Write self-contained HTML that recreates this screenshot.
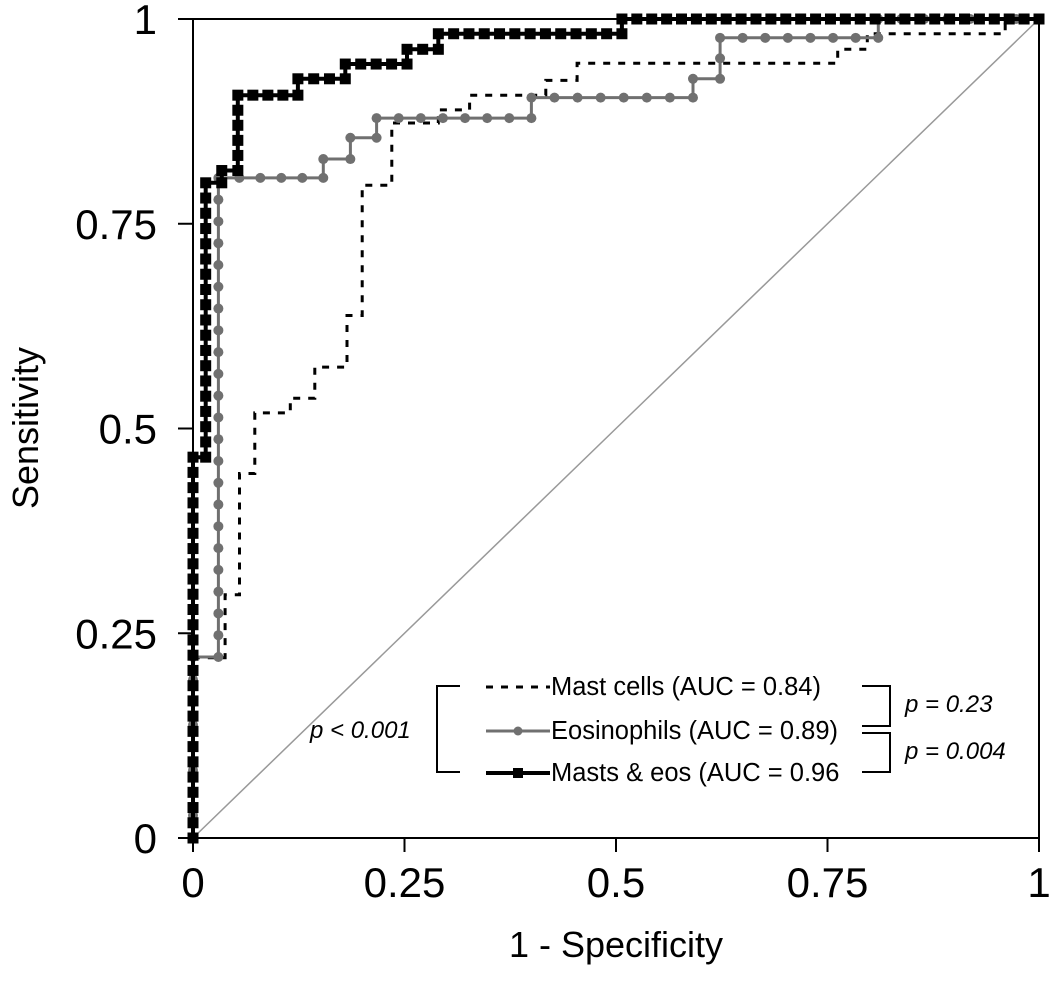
<!DOCTYPE html>
<html><head><meta charset="utf-8"><style>
html,body{margin:0;padding:0;background:#fff;}
svg{display:block;font-family:"Liberation Sans",Arial,sans-serif;}
</style></head><body>
<svg id="chart" width="1050" height="997" viewBox="0 0 1050 997"></svg>
<script>
const xTicks=[0,0.25,0.5,0.75,1];
const yTicks=[0,0.25,0.5,0.75,1];
const xTickLabels=["0","0.25","0.5","0.75","1"];
const yTickLabels=["0","0.25","0.5","0.75","1"];
const mastFpr=[0,0,0.038,0.038,0.055,0.055,0.073,0.073,0.115,0.115,0.144,0.144,0.182,0.182,0.2,0.2,0.235,0.235,0.29,0.29,0.327,0.327,0.417,0.417,0.454,0.454,0.762,0.762,0.797,0.797,0.96,0.96,1];
const mastTpr=[0,0.22,0.22,0.297,0.297,0.445,0.445,0.519,0.519,0.537,0.537,0.575,0.575,0.638,0.638,0.797,0.797,0.873,0.873,0.889,0.889,0.907,0.907,0.925,0.925,0.946,0.946,0.963,0.963,0.982,0.982,1,1];
const eosFpr=[0,0,0.03,0.03,0.154,0.154,0.186,0.186,0.217,0.217,0.40,0.40,0.591,0.591,0.623,0.623,0.81,0.81,1];
const eosTpr=[0,0.221,0.221,0.806,0.806,0.829,0.829,0.855,0.855,0.879,0.879,0.904,0.904,0.927,0.927,0.977,0.977,1,1];
const bothFpr=[0,0,0.015,0.015,0.034,0.034,0.053,0.053,0.124,0.124,0.18,0.18,0.253,0.253,0.29,0.29,0.507,0.507,1];
const bothTpr=[0,0.465,0.465,0.80,0.80,0.815,0.815,0.907,0.907,0.927,0.927,0.945,0.945,0.963,0.963,0.982,0.982,1,1];

const X0=193,X1=1039,Y0=838,Y1=19;
const sx=v=>X0+v*(X1-X0);
const sy=v=>Y0-v*(Y0-Y1);
const svg=document.getElementById('chart');
const NS='http://www.w3.org/2000/svg';
function mk(tag,attrs,parent){const e=document.createElementNS(NS,tag);for(const k in attrs)e.setAttribute(k,attrs[k]);(parent||svg).appendChild(e);return e;}

let g=mk('g',{});


mk('line',{x1:X0,y1:Y1,x2:X1,y2:Y1,stroke:'#000','stroke-width':2},g);
mk('line',{x1:X1,y1:Y1,x2:X1,y2:Y0,stroke:'#000','stroke-width':2},g);
let d=mk('line',{x1:sx(0),y1:sy(0),x2:sx(1),y2:sy(1),stroke:'#999','stroke-width':1.5});


let ax=mk('line',{x1:X0,y1:Y0,x2:X1,y2:Y0,stroke:'#000','stroke-width':2});


let ay=mk('line',{x1:X0,y1:Y1,x2:X0,y2:Y0,stroke:'#000','stroke-width':2});


xTicks.forEach((v,i)=>{
  mk('line',{x1:sx(v),y1:Y0,x2:sx(v),y2:Y0+14,stroke:'#000','stroke-width':2});
  const t=mk('text',{x:sx(v),y:897,'text-anchor':'middle','font-size':42,fill:'#000'});
  t.textContent=xTickLabels[i];
  
  
});
yTicks.forEach((v,i)=>{
  mk('line',{x1:X0-15,y1:sy(v),x2:X0,y2:sy(v),stroke:'#000','stroke-width':2});
  const t=mk('text',{x:157,y:sy(v)+15,'text-anchor':'end','font-size':42,fill:'#000'});
  t.textContent=yTickLabels[i];
  
  
});
let xt=mk('text',{x:616,y:957,'text-anchor':'middle','font-size':36,fill:'#000'});
xt.textContent='1 - Specificity';


let yt=mk('text',{x:0,y:0,'text-anchor':'middle','font-size':36,fill:'#000',transform:'translate(38,428) rotate(-90)'});
yt.textContent='Sensitivity';



function pathD(xs,ys){return xs.map((v,i)=>(i?'L':'M')+sx(v).toFixed(1)+' '+sy(ys[i]).toFixed(1)).join(' ');}
function markerPts(xs,ys,step){
  const pts=[];
  for(let i=0;i<xs.length-1;i++){
    const ax=sx(xs[i]),ay=sy(ys[i]),bx=sx(xs[i+1]),by=sy(ys[i+1]);
    const L=Math.hypot(bx-ax,by-ay);const n=Math.max(1,Math.round(L/step));
    for(let k=0;k<n;k++)pts.push([ax+(bx-ax)*k/n,ay+(by-ay)*k/n]);
  }
  pts.push([sx(xs[xs.length-1]),sy(ys[ys.length-1])]);
  return pts;
}
let s1=mk('g',{});


mk('path',{d:pathD(mastFpr,mastTpr),fill:'none',stroke:'#000','stroke-width':3,'stroke-dasharray':'7 8'},s1);
let s2=mk('g',{});


mk('path',{d:pathD(eosFpr,eosTpr),fill:'none',stroke:'#707070','stroke-width':3},s2);
markerPts(eosFpr,eosTpr,22).forEach(p=>{mk('circle',{cx:p[0],cy:p[1],r:5,fill:'#707070'},s2);});
let s3=mk('g',{});


mk('path',{d:pathD(bothFpr,bothTpr),fill:'none',stroke:'#000','stroke-width':4},s3);
markerPts(bothFpr,bothTpr,15).forEach(p=>{mk('rect',{x:p[0]-5.5,y:p[1]-5.5,width:11,height:11,fill:'#000'},s3);});

let lg=mk('g',{});


mk('line',{x1:486,y1:687,x2:550,y2:687,stroke:'#000','stroke-width':3,'stroke-dasharray':'7 8'},lg);
mk('line',{x1:486,y1:731,x2:550,y2:731,stroke:'#707070','stroke-width':3},lg);
mk('circle',{cx:518,cy:731,r:4.5,fill:'#707070'},lg);
mk('line',{x1:486,y1:773,x2:550,y2:773,stroke:'#000','stroke-width':4},lg);
mk('rect',{x:513,y:768,width:10,height:10,fill:'#000'},lg);
[['Mast cells (AUC = 0.84)',695],['Eosinophils (AUC = 0.89)',739],['Masts & eos (AUC = 0.96',781]].forEach(a=>{
  const t=mk('text',{x:551,y:a[1],'font-size':25.5,fill:'#000'},lg);t.textContent=a[0];
  
  
});
let br=mk('g',{fill:'none',stroke:'#000','stroke-width':2});


mk('path',{d:'M460 686 H437 V772 H460'},br);
mk('path',{d:'M862 686 H890 V726 H862'},br);
mk('path',{d:'M862 733 H890 V772 H862'},br);
[['p < 0.001',310,738],['p = 0.23',905,712],['p = 0.004',905,759]].forEach(a=>{
  const t=mk('text',{x:a[1],y:a[2],'font-size':24,'font-style':'italic',fill:'#000'});t.textContent=a[0];
  
  
});
</script>
</body></html>
